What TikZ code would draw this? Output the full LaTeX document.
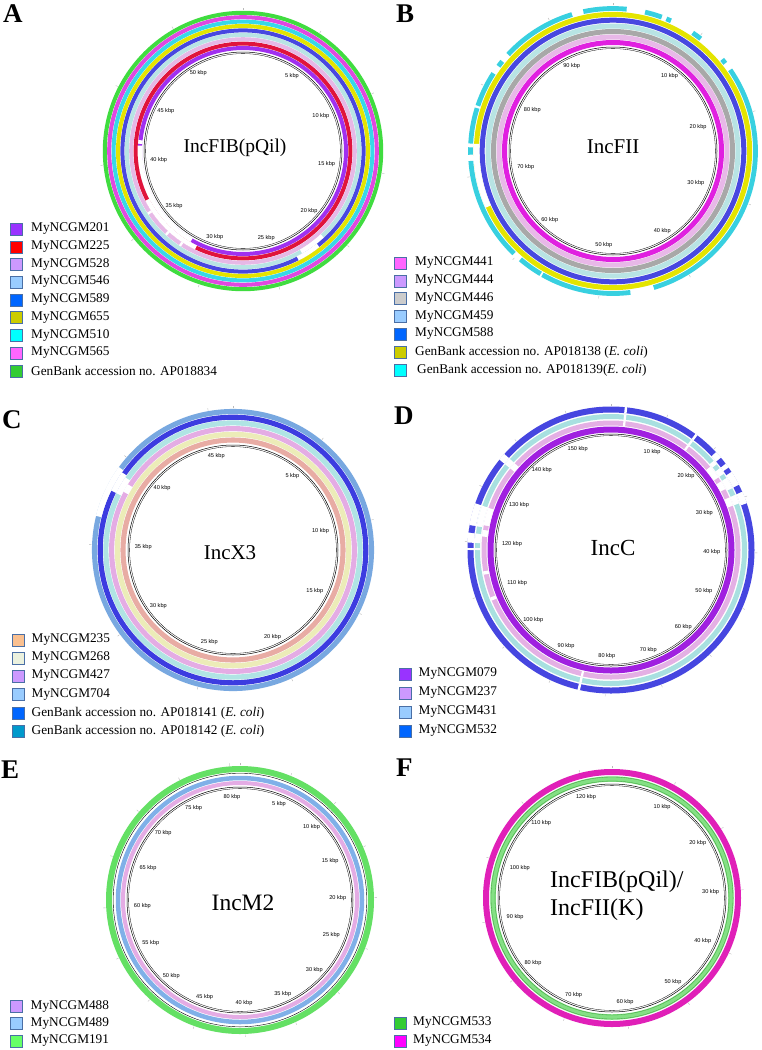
\documentclass[tikz,border=0pt]{standalone}
\usepackage{fontspec}
\setmainfont{Liberation Serif}
\newfontfamily\kbpfont{Liberation Sans}
% ring colours
\definecolor{legedge}{HTML}{4A6FA5}
\definecolor{aPur}{HTML}{A030F0}\definecolor{aRed}{HTML}{E0143C}\definecolor{aLav}{HTML}{E6B8E6}
\definecolor{aLcy}{HTML}{B8E4E4}\definecolor{aBlu}{HTML}{4848E0}\definecolor{aYel}{HTML}{E4E400}
\definecolor{aCya}{HTML}{38D8E8}\definecolor{aMag}{HTML}{E048E0}\definecolor{aGrn}{HTML}{40DC40}
\definecolor{bMag}{HTML}{E020E0}\definecolor{bLav}{HTML}{E8B8E8}\definecolor{bGry}{HTML}{A8A8A8}
\definecolor{bLcy}{HTML}{B8E4E4}\definecolor{bBlu}{HTML}{4848E0}\definecolor{bYel}{HTML}{E4E400}
\definecolor{bCya}{HTML}{38D0E0}
\definecolor{cSal}{HTML}{E8ACA4}\definecolor{cYel}{HTML}{ECECB8}\definecolor{cLav}{HTML}{E4ACE4}
\definecolor{cLcy}{HTML}{B0E4E4}\definecolor{cBlu}{HTML}{3C3CE0}\definecolor{cStl}{HTML}{78A8E0}
\definecolor{dPur}{HTML}{A020E0}\definecolor{dLav}{HTML}{E4B0E4}\definecolor{dLcy}{HTML}{A8E0E0}
\definecolor{dBlu}{HTML}{4646E0}
\definecolor{ePnk}{HTML}{E4ACE4}\definecolor{eBlu}{HTML}{80B0E8}\definecolor{eGrn}{HTML}{64E064}
\definecolor{fGrn}{HTML}{84E084}\definecolor{fGrd}{HTML}{3C9C3C}\definecolor{fMag}{HTML}{E020B8}
% legend colours
\definecolor{lPur}{HTML}{9933FF}\definecolor{lRed}{HTML}{FF0000}\definecolor{lLav}{HTML}{CC99FF}
\definecolor{lLbl}{HTML}{99CCFF}\definecolor{lBlu}{HTML}{0066FF}\definecolor{lOli}{HTML}{CCCC00}
\definecolor{lCya}{HTML}{00FFFF}\definecolor{lMag}{HTML}{FF66FF}\definecolor{lGrn}{HTML}{33CC33}
\definecolor{lGry}{HTML}{CCCCCC}\definecolor{lOra}{HTML}{FAC090}\definecolor{lPal}{HTML}{EBF1DE}
\definecolor{lTeal}{HTML}{0099CC}\definecolor{lLgr}{HTML}{66FF66}\definecolor{lFuc}{HTML}{FF00FF}
% helpers (angles in degrees clockwise from top)
\newcommand\ringc[3]{\draw[line width=#2pt, draw=#3] (0,0) circle[radius=#1];}
\newcommand\ringa[5]{\draw[line width=#2pt, draw=#3] ({#4-90}:#1) arc[start angle={#4-90}, end angle={#5-90}, radius=#1];}
\newcommand\gapw[4]{\draw[line width=#2pt+0.6pt, draw=white] ({#3-90}:#1) arc[start angle={#3-90}, end angle={#4-90}, radius=#1];}
\newcommand\backb[1]{\draw[backbone] (0,0) circle[radius=#1];\draw[black,line width=0.3pt] (0,0) circle[radius=#1-1.6];}
\newcommand\kbpl[5]{%
  \foreach \k in {#3}{%
    \pgfmathsetmacro\th{\k/#2*360}%
    \pgfmathtruncatemacro\an{mod(450-\th,360)}%
    \node[kbp, anchor=\an] (#4\k) at ({\th-90}:#1) {\k\ kbp};
    \draw[tickmark] ({\th-90}:#5+0.6) -- ({\th-90}:#5+3);
  }%
  \draw[tickmark] (-90:#5+0.6) -- (-90:#5+3);}
\newcommand\leg[6]{\node[legbox, fill=#5] (#1b) at (#2,#4) {};\node[legtxt] (#1t) at (#3,#4) {#6};}
\begin{document}
\begin{tikzpicture}[x=1pt,y=-1pt,
  kbp/.style={font=\kbpfont\fontsize{5.6}{6}\selectfont, inner sep=0.6pt},
  title/.style={inner sep=0pt},
  panel/.style={font=\fontsize{27}{28}\selectfont\bfseries, inner sep=0pt, anchor=west},
  legbox/.style={draw=legedge, line width=0.8pt, minimum size=12pt, inner sep=0pt},
  legtxt/.style={font=\fontsize{13.3}{14}\selectfont, inner sep=0pt, anchor=west},
  backbone/.style={draw=black, line width=0.5pt},
  tickmark/.style={draw=gray!55, line width=0.4pt}]
\useasboundingbox[fill=white] (0,0) rectangle (761,1050);

% ---------------- Panel A ----------------
\node[panel] (pA) at (3,14) {A};
\begin{scope}[shift={(243,151)}]
  \ringc{103}{4}{aPur}\gapw{103}{4}{210}{273}\gapw{103}{4}{274}{276}
  \ringc{107.4}{4}{aRed}\gapw{107.4}{4}{206}{243}
  \ringc{111.8}{4}{aLav}\foreach \a in {213,222,236}{\gapw{111.8}{4}{\a}{\a+1.2}}
  \ringc{116.2}{4}{aLcy}\gapw{116.2}{4}{137}{150}
  \ringc{120.6}{4}{aBlu}\gapw{120.6}{4}{141.5}{153}
  \ringc{125}{4}{aYel}
  \ringc{129.4}{4}{aCya}
  \ringc{133.8}{4}{aMag}
  \ringc{138.2}{4}{aGrn}
  \backb{99}
  \kbpl{94}{54.5}{5,10,...,50}{kA}{140.2}
\end{scope}
\node[title, font=\fontsize{19.5}{21}\selectfont] (tA) at (235,148) {IncFIB(pQil)};
\leg{a1}{16.5}{31}{229}{lPur}{MyNCGM201}
\leg{a2}{16.5}{31}{247}{lRed}{MyNCGM225}
\leg{a3}{16.5}{31}{264.5}{lLav}{MyNCGM528}
\leg{a4}{16.5}{31}{282}{lLbl}{MyNCGM546}
\leg{a5}{16.5}{31}{300}{lBlu}{MyNCGM589}
\leg{a6}{16.5}{31}{317.5}{lOli}{MyNCGM655}
\leg{a7}{16.5}{31}{335.5}{lCya}{MyNCGM510}
\leg{a8}{16.5}{31}{353}{lMag}{MyNCGM565}
\leg{a9}{16.5}{31}{371}{lGrn}{GenBank accession no. AP018834}

% ---------------- Panel B ----------------
\node[panel] (pB) at (396,14) {B};
\begin{scope}[shift={(613,151)}]
  \ringc{108.5}{5}{bMag}
  \ringc{114}{5}{bLav}
  \ringc{119.5}{5}{bGry}
  \ringc{125}{5}{bLcy}
  \ringc{130.8}{5}{bBlu}
  \ringc{136.6}{5}{bYel}\gapw{136.6}{5}{246}{273}
  \foreach \s/\e in {348/365.5,13/20,22/24,34/38,50/52,55.3/163.4,173/209.7,210.5/220.5,224/266,268.5/271.5,273/287.5,288.5/303,306.5/309,312.6/343.3}
    {\ringa{142.5}{4.8}{bCya}{\s}{\e}}
  \backb{104}
  \kbpl{98}{97}{10,20,...,90}{kB}{145}
\end{scope}
\node[title, font=\fontsize{21}{23}\selectfont] (tB) at (613,147) {IncFII};
\leg{b1}{400}{415}{263}{lMag}{MyNCGM441}
\leg{b2}{400}{415}{281}{lLav}{MyNCGM444}
\leg{b3}{400}{415}{298.5}{lGry}{MyNCGM446}
\leg{b4}{400}{415}{316.5}{lLbl}{MyNCGM459}
\leg{b5}{400}{415}{334}{lBlu}{MyNCGM588}
\leg{b6}{400}{415}{352.5}{lOli}{GenBank accession no. AP018138 (\textit{E. coli})}
\leg{b7}{400}{417}{370.5}{lCya}{GenBank accession no. AP018139(\textit{E. coli})}

% ---------------- Panel C ----------------
\node[panel] (pC) at (2,420) {C};
\begin{scope}[shift={(233,550)}]
  \ringc{110}{5.1}{cSal}
  \ringc{115.7}{5.1}{cYel}
  \ringc{121.4}{5.1}{cLav}\gapw{121.4}{5.1}{298}{302}
  \ringc{127.1}{5.1}{cLcy}\gapw{127.1}{5.1}{296}{304}
  \ringc{132.8}{5.1}{cBlu}\gapw{132.8}{5.1}{296}{305}
  \ringc{138.5}{5.1}{cStl}\gapw{138.5}{5.1}{284}{306}
  \backb{105}
  \kbpl{99}{46.3}{5,10,...,45}{kC}{141}
\end{scope}
\node[title, font=\fontsize{21}{23}\selectfont] (tC) at (230,553) {IncX3};
\leg{c1}{18}{31.5}{640}{lOra}{MyNCGM235}
\leg{c2}{18}{31.5}{658}{lPal}{MyNCGM268}
\leg{c3}{18}{31.5}{676}{lLav}{MyNCGM427}
\leg{c4}{18}{31.5}{694.5}{lLbl}{MyNCGM704}
\leg{c5}{18}{31.5}{713}{lBlu}{GenBank accession no. AP018141 (\textit{E. coli})}
\leg{c6}{18}{31.5}{731.5}{lTeal}{GenBank accession no. AP018142 (\textit{E. coli})}

% ---------------- Panel D ----------------
\node[panel] (pD) at (394,416) {D};
\begin{scope}[shift={(611,550)}]
  \ringc{120.5}{6}{dPur}
  \ringc{127}{5}{dLav}
  \ringc{133.5}{5}{dLcy}
  \ringc{140.5}{6}{dBlu}
  % radial white cuts
  \foreach \a in {6,36.5,193}{\gapw{127}{5}{\a-0.5}{\a+0.5}\gapw{133.5}{5}{\a-0.5}{\a+0.5}\gapw{140.5}{6}{\a-0.5}{\a+0.5}}
  \gapw{127}{5}{309}{312}\gapw{133.5}{5}{309}{312}\gapw{140.5}{6}{309}{312}
  % 20-30 kbp region
  \gapw{140.5}{6}{47}{71}\gapw{133.5}{5}{49}{70}\gapw{127}{5}{50}{70}
  \foreach \s/\e in {50/53,55/57,63/66}{\ringa{140.5}{6}{dBlu}{\s}{\e}}
  \foreach \s/\e in {51/53,56/58,63/66}{\ringa{133.5}{5}{dLcy}{\s}{\e}}
  \foreach \s/\e in {56/58,62/66}{\ringa{127}{5}{dLav}{\s}{\e}}
  % 120-130 kbp region
  \gapw{140.5}{6}{273}{289}\gapw{133.5}{5}{273}{289}\gapw{127}{5}{276}{289}
  \ringa{140.5}{6}{dBlu}{277}{280}\ringa{133.5}{5}{dLcy}{277}{280}\ringa{127}{5}{dLav}{279}{281}
  \gapw{140.5}{6}{270}{270.8}\gapw{133.5}{5}{270}{270.8}
  \gapw{127}{5}{247}{248.5}\gapw{127}{5}{259}{260.5}
  \backb{116}
  \kbpl{110}{158}{10,20,...,150}{kD}{143.5}
\end{scope}
\node[title, font=\fontsize{23}{25}\selectfont] (tD) at (613,548) {IncC};
\leg{d1}{405}{418.5}{674}{lPur}{MyNCGM079}
\leg{d2}{405}{418.5}{693}{lLav}{MyNCGM237}
\leg{d3}{405}{418.5}{712}{lLbl}{MyNCGM431}
\leg{d4}{405}{418.5}{731}{lBlu}{MyNCGM532}

% ---------------- Panel E ----------------
\node[panel] (pE) at (1,770) {E};
\begin{scope}[shift={(240,900)}]
  \ringc{117}{4}{ePnk}
  \ringc{122}{4.5}{eBlu}
  \draw[black, line width=0.4pt] (0,0) circle[radius=126.8];
  \ringc{131}{6}{eGrn}
  \backb{113}
  \kbpl{107}{81}{5,10,...,80}{kE}{134}
\end{scope}
\node[title, font=\fontsize{23.5}{25}\selectfont] (tE) at (243,903) {IncM2};
\leg{e1}{16.5}{30.5}{1006}{lLav}{MyNCGM488}
\leg{e2}{16.5}{30.5}{1023.5}{lLbl}{MyNCGM489}
\leg{e3}{16.5}{30.5}{1041}{lLgr}{MyNCGM191}

% ---------------- Panel F ----------------
\node[panel] (pF) at (396,768) {F};
\begin{scope}[shift={(612,898)}]
  \ringc{119}{5.5}{fGrn}
  \draw[fGrd, line width=0.3pt] (0,0) circle[radius=117];
  \draw[fGrd, line width=0.3pt] (0,0) circle[radius=121];
  \ringc{126}{6}{fMag}
  \backb{114}
  \kbpl{108}{125}{10,20,...,120}{kF}{129}
\end{scope}
\node[title, font=\fontsize{24}{28}\selectfont, align=left, anchor=west] (tF) at (550,896) {IncFIB(pQil)/\\IncFII(K)};
\leg{f1}{400.5}{413}{1023}{lGrn}{MyNCGM533}
\leg{f2}{400.5}{413}{1041}{lFuc}{MyNCGM534}
\end{tikzpicture}
\end{document}
